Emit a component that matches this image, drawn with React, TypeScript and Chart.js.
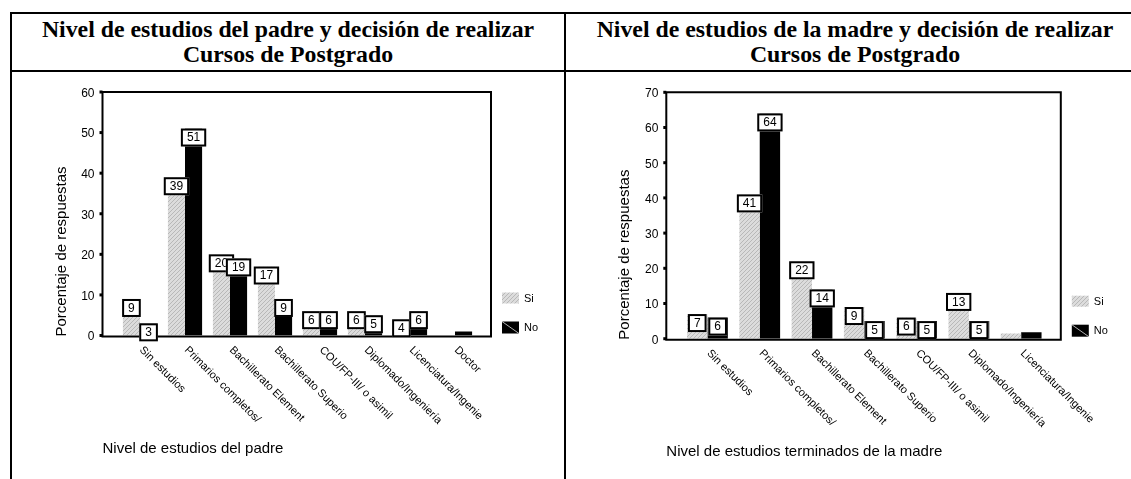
import React, { useEffect, useRef } from "react";
import { Chart, registerables } from "chart.js";
Chart.register(...registerables);

// ---------- Data ----------
const fatherCategories = [
  "Sin estudios",
  "Primarios completos/",
  "Bachillerato Element",
  "Bachillerato Superio",
  "COU/FP-III/ o asimil",
  "Diplomado/Ingeniería",
  "Licenciatura/Ingenie",
  "Doctor",
];
const fatherSi = [9, 39, 20, 17, 6, 6, 4, 0];
const fatherNo = [3, 51, 19, 9, 6, 5, 6, 1];
const fatherSiLabels = ["9", "39", "20", "17", "6", "6", "4", null];
const fatherNoLabels = ["3", "51", "19", "9", "6", "5", "6", null];
const fatherTicks = [0, 10, 20, 30, 40, 50, 60];

const motherCategories = [
  "Sin estudios",
  "Primarios completos/",
  "Bachillerato Element",
  "Bachillerato Superio",
  "COU/FP-III/ o asimil",
  "Diplomado/Ingeniería",
  "Licenciatura/Ingenie",
];
const motherSi = [7, 41, 22, 9, 6, 13, 1.5];
const motherNo = [6, 64, 14, 5, 5, 5, 1.8];
const motherSiLabels = ["7", "41", "22", "9", "6", "13", null];
const motherNoLabels = ["6", "64", "14", "5", "5", "5", null];
const motherTicks = [0, 10, 20, 30, 40, 50, 60, 70];

const seriesNames = ["Si", "No"];
const yTitle = "Porcentaje de respuestas";
const fatherXTitle = "Nivel de estudios del padre";
const motherXTitle = "Nivel de estudios terminados de la madre";
const fatherTitle = ["Nivel de estudios del padre y decisión de realizar", "Cursos de Postgrado"];
const motherTitle = ["Nivel de estudios de la madre y decisión de realizar", "Cursos de Postgrado"];

const SANS = '"Liberation Sans", Arial, sans-serif';

function makeHatch(ctx: CanvasRenderingContext2D) {
  const c = document.createElement("canvas");
  c.width = 4;
  c.height = 4;
  const g = c.getContext("2d")!;
  g.fillStyle = "#dcdcdc";
  g.fillRect(0, 0, 4, 4);
  g.strokeStyle = "#b8b8b8";
  g.lineWidth = 1;
  g.beginPath();
  g.moveTo(0, 4);
  g.lineTo(4, 0);
  g.moveTo(-1, 1);
  g.lineTo(1, -1);
  g.moveTo(3, 5);
  g.lineTo(5, 3);
  g.stroke();
  return ctx.createPattern(c, "repeat")!;
}

const panelPlugin = {
  id: "panel",
  afterDatasetsDraw(chart: any, _args: any, o: any) {
    const ctx: CanvasRenderingContext2D = chart.ctx;
    const ca = chart.chartArea;
    const xs = chart.scales.x;
    const ys = chart.scales.y;
    const fl = ca.left - 15;
    const fr = ca.right + 13.5;
    const axisY = ys.getPixelForValue(0);
    const topY = ys.getPixelForValue(o.ticks[o.ticks.length - 1]);
    ctx.save();

    // frame
    ctx.strokeStyle = "#000";
    ctx.lineWidth = 2;
    ctx.beginPath();
    ctx.moveTo(fl, topY);
    ctx.lineTo(fr, topY);
    ctx.lineTo(fr, axisY + 1);
    ctx.moveTo(fl, topY - 1);
    ctx.lineTo(fl, axisY + 2);
    ctx.moveTo(fl - 1, axisY + 1);
    ctx.lineTo(fr + 1, axisY + 1);
    ctx.stroke();

    // y ticks
    ctx.fillStyle = "#000";
    ctx.font = "12px " + SANS;
    ctx.textAlign = "right";
    ctx.textBaseline = "middle";
    o.ticks.forEach((t: number) => {
      const py = ys.getPixelForValue(t);
      ctx.fillRect(fl - 3, py - 1.5, 3, 3);
      ctx.fillText(String(t), fl - 8, py + 1.5);
    });

    // x labels (rotated)
    ctx.font = "11px " + SANS;
    ctx.textAlign = "left";
    ctx.textBaseline = "top";
    o.categories.forEach((c: string, i: number) => {
      const px = xs.getPixelForValue(i);
      ctx.save();
      ctx.translate(px + 5, axisY + 9);
      ctx.rotate(Math.PI / 4);
      ctx.fillText(c, 0, 0);
      ctx.restore();
    });

    // axis titles
    ctx.font = "15px " + SANS;
    ctx.textAlign = "left";
    ctx.textBaseline = "middle";
    ctx.fillText(o.xTitle, fl, axisY + 113);
    ctx.save();
    ctx.translate(fl - 41, axisY + 1);
    ctx.rotate(-Math.PI / 2);
    ctx.fillText(o.yTitle, 0, 0);
    ctx.restore();

    // legend
    ctx.font = "11px " + SANS;
    const sx = fr + 11;
    const siTop = axisY - 43;
    const noTop = axisY - 14;
    ctx.fillStyle = o.hatch;
    ctx.fillRect(sx, siTop, 17, 11);
    ctx.fillStyle = "#000";
    ctx.fillRect(sx, noTop, 17, 12);
    ctx.strokeStyle = "#fff";
    ctx.lineWidth = 0.7;
    ctx.beginPath();
    ctx.moveTo(sx, noTop);
    ctx.lineTo(sx + 17, noTop + 12);
    ctx.stroke();
    ctx.fillStyle = "#000";
    ctx.fillText(o.names[0], sx + 22, siTop + 6);
    ctx.fillText(o.names[1], sx + 22, noTop + 6);

    // value boxes
    ctx.font = "12px " + SANS;
    ctx.textAlign = "center";
    ctx.textBaseline = "middle";
    const labelSets = [o.siLabels, o.noLabels];
    for (let j = 0; j < o.categories.length; j++) {
      for (let d = 0; d < 2; d++) {
        const lab = labelSets[d][j];
        if (lab == null) continue;
        const el = chart.getDatasetMeta(d).data[j];
        const w = ctx.measureText(lab).width + 12;
        const h = 18;
        const bx = el.x - w / 2;
        const by = el.y;
        ctx.fillStyle = "#fff";
        ctx.fillRect(bx, by, w, h);
        ctx.strokeStyle = "#000";
        ctx.lineWidth = 2;
        ctx.strokeRect(bx + 1, by + 1, w - 2, h - 2);
        ctx.fillStyle = "#000";
        ctx.fillText(lab, el.x, by + h / 2 + 0.5);
      }
    }
    ctx.restore();
  },
};

type PanelProps = {
  left: number;
  width: number;
  categories: string[];
  si: number[];
  no: number[];
  siLabels: (string | null)[];
  noLabels: (string | null)[];
  ticks: number[];
  xTitle: string;
  pad: { left: number; right: number; top: number; bottom: number };
  catPct: number;
};

function Panel(p: PanelProps) {
  const ref = useRef<HTMLCanvasElement>(null);
  useEffect(() => {
    const canvas = ref.current!;
    const ctx = canvas.getContext("2d")!;
    const hatch = makeHatch(ctx);
    const chart = new Chart(canvas, {
      type: "bar",
      data: {
        labels: p.categories,
        datasets: [
          {
            label: seriesNames[0],
            data: p.si,
            backgroundColor: hatch as any,
            borderWidth: 0,
            barPercentage: 1,
            categoryPercentage: p.catPct,
          },
          {
            label: seriesNames[1],
            data: p.no,
            backgroundColor: "#000",
            borderWidth: 0,
            barPercentage: 1,
            categoryPercentage: p.catPct,
          },
        ],
      },
      options: {
        responsive: false,
        animation: false,
        devicePixelRatio: 1,
        layout: { padding: p.pad },
        scales: {
          x: { display: false, offset: true },
          y: { display: false, min: 0, max: p.ticks[p.ticks.length - 1] },
        },
        plugins: {
          legend: { display: false },
          tooltip: { enabled: false },
          panel: {
            ticks: p.ticks,
            categories: p.categories,
            siLabels: p.siLabels,
            noLabels: p.noLabels,
            xTitle: p.xTitle,
            yTitle: yTitle,
            names: seriesNames,
            hatch: hatch,
          },
        } as any,
      },
      plugins: [panelPlugin as any],
    });
    return () => chart.destroy();
  }, []);
  return (
    <canvas
      ref={ref}
      width={p.width}
      height={406}
      style={{ position: "absolute", left: p.left, top: 73, width: p.width, height: 406 }}
    />
  );
}

const titleStyle: React.CSSProperties = {
  position: "absolute",
  top: 17,
  textAlign: "center",
  fontFamily: '"Liberation Serif", "Times New Roman", serif',
  fontWeight: "bold",
  fontSize: 23.8,
  lineHeight: "25px",
  color: "#000",
  whiteSpace: "nowrap",
};

export default function App() {
  const line = (l: number, t: number, w: number, h: number) => (
    <div style={{ position: "absolute", left: l, top: t, width: w, height: h, background: "#000" }} />
  );
  return (
    <div
      style={{
        position: "fixed",
        left: 0,
        top: 0,
        width: 1131,
        height: 479,
        overflow: "hidden",
        background: "#fff",
      }}
    >
      {line(10, 12, 1200, 2)}
      {line(10, 70, 1200, 2)}
      {line(10, 12, 2, 500)}
      {line(564, 12, 2, 500)}
      <div style={{ ...titleStyle, left: 12, width: 552 }}>
        {fatherTitle[0]}
        <br />
        {fatherTitle[1]}
      </div>
      <div style={{ ...titleStyle, left: 566, width: 578 }}>
        {motherTitle[0]}
        <br />
        {motherTitle[1]}
      </div>
      <Panel
        left={13}
        width={550}
        categories={fatherCategories}
        si={fatherSi}
        no={fatherNo}
        siLabels={fatherSiLabels}
        noLabels={fatherNoLabels}
        ticks={fatherTicks}
        xTitle={fatherXTitle}
        pad={{ left: 104.5, right: 85.5, top: 19, bottom: 143.5 }}
        catPct={0.76}
      />
      <Panel
        left={567}
        width={564}
        categories={motherCategories}
        si={motherSi}
        no={motherNo}
        siLabels={motherSiLabels}
        noLabels={motherNoLabels}
        ticks={motherTicks}
        xTitle={motherXTitle}
        pad={{ left: 114.3, right: 83.7, top: 19.3, bottom: 140.3 }}
        catPct={0.78}
      />
    </div>
  );
}
